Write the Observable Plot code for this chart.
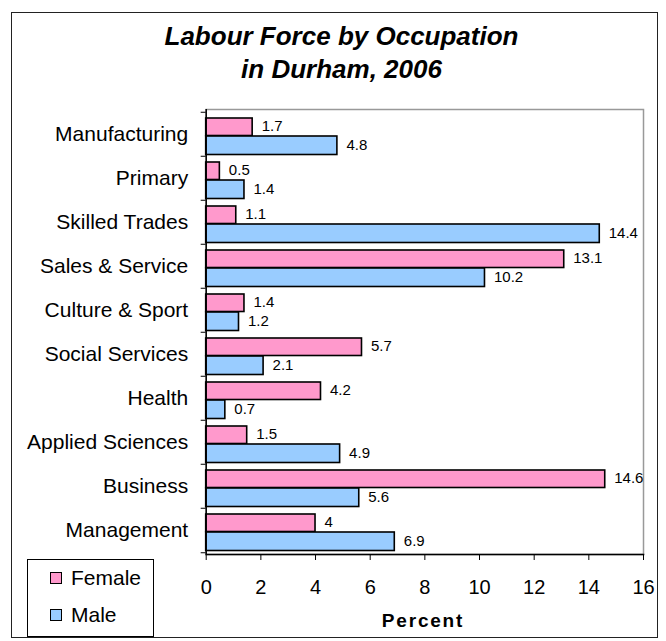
<!DOCTYPE html>
<html>
<head>
<meta charset="utf-8">
<script src="https://cdn.jsdelivr.net/npm/d3@7"></script>
<script src="https://cdn.jsdelivr.net/npm/@observablehq/plot@0.6"></script>
<style>
  body { margin: 0; background: #fff; font-family: "Liberation Sans", Arial, sans-serif; }
  #wrap { position: relative; width: 666px; height: 641px; overflow: hidden; }
  #border { position: absolute; left: 11px; top: 12px; width: 645px; height: 624px; border: 1.5px solid #222; }
  #title { position: absolute; left: 16px; width: 651px; top: 20px; text-align: center;
           font: italic bold 26px/33px "Liberation Sans", Arial, sans-serif; color: #000; }
  #chart { position: absolute; left: 0; top: 0; }
  #xlabel { position: absolute; left: 323px; width: 200px; top: 611px; text-align: center;
            font: bold 19px/19px "Liberation Sans", Arial, sans-serif; letter-spacing: 1.8px; color: #000; }
  #legend { position: absolute; left: 27px; top: 559px; width: 125px; height: 76px; border: 1px solid #000; background: #fff; }
  .row { position: absolute; left: 22px; height: 24px; display: flex; align-items: center;
         font: 21px "Liberation Sans", Arial, sans-serif; color: #000; }
  .sw { width: 10px; height: 10px; border: 1.5px solid #000; margin-right: 9px; }
</style>
</head>
<body>
<div id="wrap">
  <div id="border"></div>
  <div id="title">Labour Force by Occupation<br>in Durham, 2006</div>
  <div id="chart"></div>
  <div id="xlabel">Percent</div>
  <div id="legend"></div>
</div>
<script>
const categories = ["Manufacturing", "Primary", "Skilled Trades", "Sales & Service", "Culture & Sport",
                    "Social Services", "Health", "Applied Sciences", "Business", "Management"];
const female = [1.7, 0.5, 1.1, 13.1, 1.4, 5.7, 4.2, 1.5, 14.6, 4];
const male = [4.8, 1.4, 14.4, 10.2, 1.2, 2.1, 0.7, 4.9, 5.6, 6.9];
const series = ["Female", "Male"];
const colors = ["#FF99CC", "#99CCFF"];
const xTicks = [0, 2, 4, 6, 8, 10, 12, 14, 16];
const xDomain = [0, 16];
const xLabel = "Percent";

const femaleRows = categories.map((c, i) => ({category: c, sex: series[0], value: female[i]}));
const maleRows = categories.map((c, i) => ({category: c, sex: series[1], value: male[i]}));

const chart = Plot.plot({
  width: 666,
  height: 641,
  marginLeft: 205.7,
  marginRight: 23,
  marginTop: 109,
  marginBottom: 87,
  style: {fontFamily: "'Liberation Sans', Arial, sans-serif", color: "#000", background: "transparent", overflow: "visible"},
  x: {domain: xDomain},
  y: {domain: categories, padding: 0},
  color: {domain: series, range: colors},
  marks: [
    Plot.frame({stroke: "#999", strokeWidth: 1.5}),
    Plot.barX(femaleRows, {y: "category", x: "value", fill: "sex", stroke: "#000", strokeWidth: 1.6,
                           insetTop: 6, insetBottom: 20.5}),
    Plot.barX(maleRows, {y: "category", x: "value", fill: "sex", stroke: "#000", strokeWidth: 1.6,
                         insetTop: 24, insetBottom: 1.5}),
    Plot.text(femaleRows, {y: "category", x: "value", text: d => String(d.value), dx: 9, dy: -8,
                           textAnchor: "start", fontSize: 15, fill: "#000"}),
    Plot.text(maleRows, {y: "category", x: "value", text: d => String(d.value), dx: 9, dy: 11,
                         textAnchor: "start", fontSize: 15, fill: "#000"}),
    Plot.ruleX([0], {stroke: "#000", strokeWidth: 1.5}),
    Plot.frame({anchor: "bottom", stroke: "#000", strokeWidth: 1.5}),
    Plot.axisY({tickSize: 0, tickPadding: 18, fontSize: 21, label: null}),
    Plot.axisY({tickSize: 5, tickFormat: () => "", label: null, dy: -22.25, stroke: "#000"}),
    Plot.axisY({ticks: [categories[categories.length - 1]], tickSize: 5, tickFormat: () => "", label: null, dy: 22.25, stroke: "#000"}),
    Plot.axisX({ticks: xTicks, tickSize: 6, tickPadding: 19, fontSize: 20, label: null, stroke: "#000"})
  ]
});
document.getElementById("chart").appendChild(chart);

const legend = document.getElementById("legend");
series.forEach((s, i) => {
  const row = document.createElement("div");
  row.className = "row";
  row.style.top = (i === 0 ? 6 : 43) + "px";
  const sw = document.createElement("div");
  sw.className = "sw";
  sw.style.background = colors[i];
  const t = document.createElement("span");
  t.textContent = s;
  row.appendChild(sw);
  row.appendChild(t);
  legend.appendChild(row);
});
document.getElementById("xlabel").textContent = xLabel;
</script>
</body>
</html>
